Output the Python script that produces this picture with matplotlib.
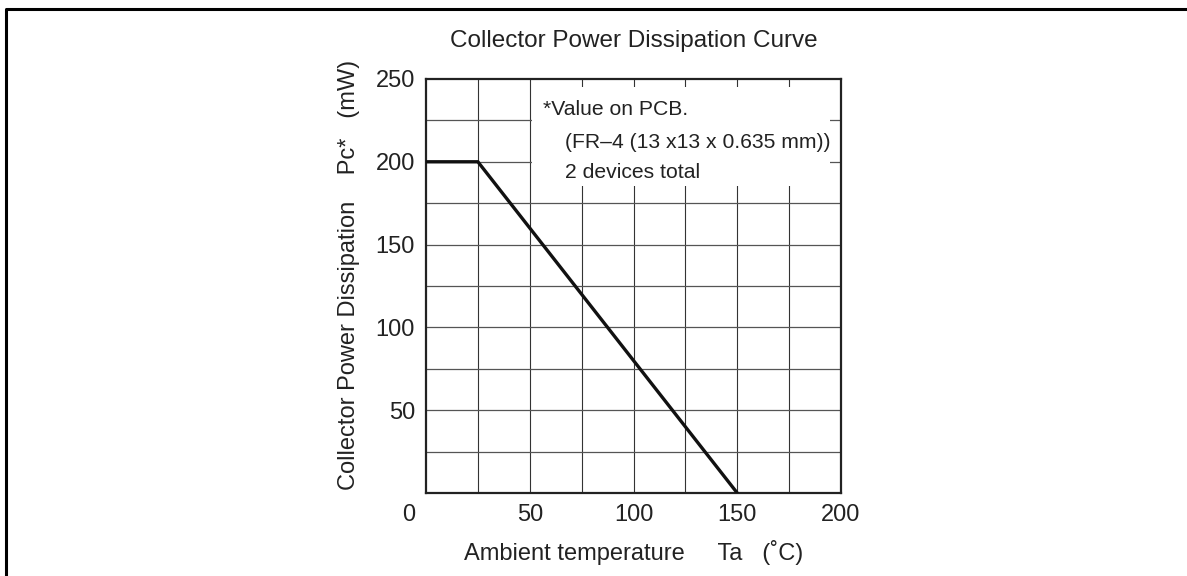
import matplotlib
matplotlib.use("Agg")
from matplotlib import pyplot as plt
from matplotlib.patches import Rectangle
import matplotlib.transforms as mtrans

# derating curve
ta = [0, 25, 150]
pc = [200, 200, 0]
x_ticks = [0, 50, 100, 150, 200]
y_ticks = [50, 100, 150, 200, 250]
grid_x = [25, 50, 75, 100, 125, 150, 175]
grid_y = [25, 50, 75, 100, 125, 150, 175, 200, 225]
note_lines = ["*Value on PCB.", "(FR\u20134 (13 x13 x 0.635 mm))", "2 devices total"]

plt.rcParams['font.family'] = ['Liberation Sans', 'DejaVu Sans']
plt.rcParams['font.size'] = 17

fig = plt.figure(figsize=(11.87, 5.76), dpi=100)
ax = fig.add_axes([0.3589, 0.1441, 0.3496, 0.7188])

for gx in grid_x:
    ax.axvline(gx, color='#333333', lw=0.8, zorder=1)
for gy in grid_y:
    ax.axhline(gy, color='#555555', lw=0.9, zorder=1)

# white note box that covers the grid
ax.add_patch(Rectangle((51, 185.5), 143.7, 59.7, facecolor='white', edgecolor='none', zorder=2))
ax.plot(ta, pc, color='#111111', lw=2.4, solid_joinstyle='miter', zorder=3)

tx = ax.transAxes
kw = dict(transform=tx, va='baseline', ha='left', color='#222222', fontsize=15.2, zorder=4)
ax.text(0.282, 0.913, note_lines[0], **kw)
ax.text(0.334, 0.833, note_lines[1], **kw)
ax.text(0.334, 0.761, note_lines[2], **kw)

ax.set_xlim(0, 200)
ax.set_ylim(0, 250)
ax.set_xticks(x_ticks)
ax.set_yticks(y_ticks)
ax.tick_params(length=0, pad=8, colors='#222222', labelsize=17)
for s in ax.spines.values():
    s.set_linewidth(1.6)
    s.set_color('#222222')

fig.canvas.draw()
lab0 = ax.get_xticklabels()[0]
lab0.set_transform(lab0.get_transform() + mtrans.ScaledTranslation(-0.17, 0, fig.dpi_scale_trans))

ax.set_title("Collector Power Dissipation Curve", fontsize=17.5, color='#222222', pad=23)
ax.set_xlabel("Ambient temperature     Ta   (\u02daC)", fontsize=17, color='#222222', labelpad=10)
ax.set_ylabel("Collector Power Dissipation    Pc*   (mW)", fontsize=17, color='#222222')
ax.yaxis.set_label_coords(-0.16, 0.527)

# frame around the figure (top and left edges only)
fig.add_artist(plt.Line2D([0.005, 0.005, 1.0], [0.0, 0.984, 0.984], transform=fig.transFigure, color='black', lw=2.2))

fig.savefig("out.png", dpi=100)
